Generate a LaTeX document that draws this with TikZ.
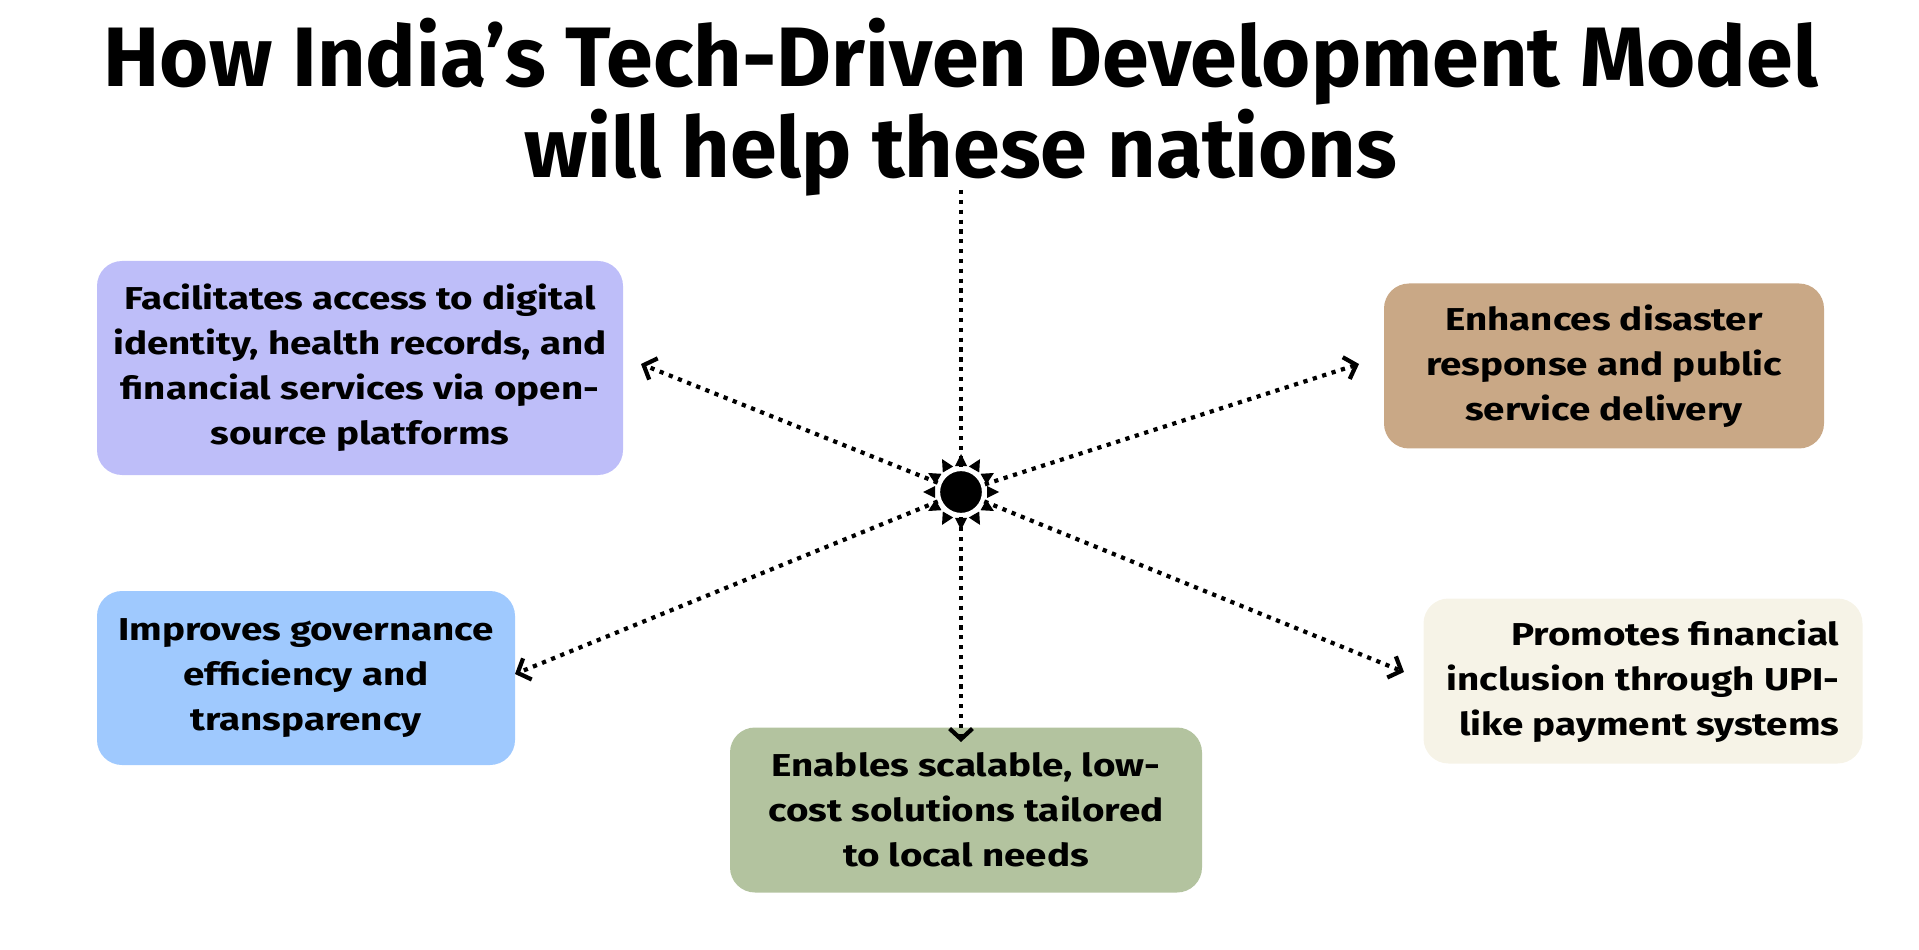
\documentclass[tikz,border=0pt]{standalone}
\usepackage{fontspec}
\setmainfont{Fira Sans}
\newfontfamily\boxfont{Fira Sans}[FakeStretch=1.22]
\usetikzlibrary{arrows.meta}
\definecolor{lilac}{HTML}{BEBEF9}
\definecolor{tan}{HTML}{C9A886}
\definecolor{sky}{HTML}{9FC9FE}
\definecolor{sage}{HTML}{B3C39F}
\definecolor{cream}{HTML}{F6F3E7}
\begin{document}
\begin{tikzpicture}[box/.style={rounded corners=0.25cm,align=center,inner sep=0.1cm,
        font=\boxfont\bfseries\fontsize{9}{12.8}\selectfont},
    link/.style={line width=1.2pt,dash pattern=on 1.2pt off 1.6pt},
    tip/.style={-{Straight Barb[length=3pt,width=6.5pt,line width=1.2pt]}}]
    \useasboundingbox (0,0) rectangle (19.19,9.49);
    \node[font=\bfseries\fontsize{24}{23}\selectfont,align=center] (title) at (9.61,8.42)
        {How India’s Tech-Driven Development Model\\will help these nations};
    % boxes
    \node[box,fill=lilac,minimum width=5.26cm,minimum height=2.14cm] (access) at (3.60,5.81)
        {Facilitates access to digital\\identity, health records, and\\financial services via open-\\source platforms};
    \node[box,fill=tan,minimum width=4.40cm,minimum height=1.65cm] (disaster) at (16.04,5.83)
        {Enhances disaster\\response and public\\service delivery};
    \node[box,fill=sky,minimum width=4.18cm,minimum height=1.74cm] (governance) at (3.06,2.71)
        {Improves governance\\efficiency and\\transparency};
    \node[box,fill=sage,minimum width=4.72cm,minimum height=1.65cm] (scalable) at (9.66,1.39)
        {Enables scalable, low-\\cost solutions tailored\\to local needs};
    \node[box,fill=cream,minimum width=4.39cm,minimum height=1.65cm,align=right] (upi) at (16.43,2.68)
        {Promotes financial\\inclusion through UPI-\\like payment systems};
    % arrow ends
    \coordinate (top) at (9.61,7.59);
    \coordinate (ul) at (6.41,5.85);
    \coordinate (ur) at (13.59,5.85);
    \coordinate (ll) at (5.15,2.75);
    \coordinate (lr) at (14.04,2.77);
    \coordinate (dn) at (9.61,2.07);
    % hub
    \node[circle,fill=black,draw=white,line width=1.2pt,minimum size=0.46cm,inner sep=0pt] (hub) at (9.61,4.57) {};
    \path[link]
        (top) edge (hub)
        (hub) edge[tip] (ul)
        (hub) edge[tip] (ur)
        (hub) edge[tip] (ll)
        (hub) edge[tip] (lr)
        (hub) edge[tip] (dn);
    \foreach \a in {0,30,...,330}
        \fill[shift={(hub.center)},rotate=\a] (0.26,-0.06) -- (0.26,0.06) -- (0.38,0) -- cycle;
\end{tikzpicture}
\end{document}
